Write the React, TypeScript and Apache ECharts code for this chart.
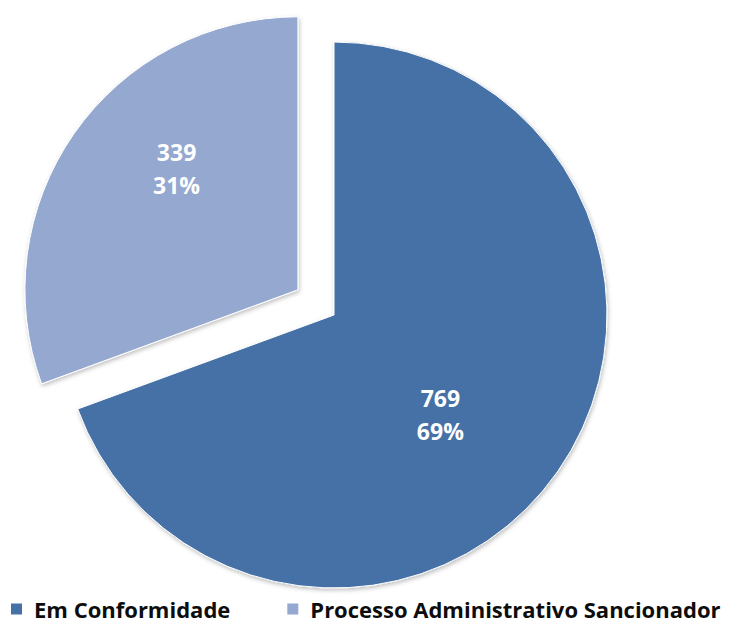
import React, { useEffect, useRef } from "react";
import * as echarts from "echarts";

const categories = ["Em Conformidade", "Processo Administrativo Sancionador"];
const values = [769, 339];
const colors = ["#4571A6", "#94A8D0"];
const labelShift = [
  { dx: -8, dy: 20 },
  { dx: -7, dy: -41 },
];

export default function App() {
  const ref = useRef<HTMLDivElement>(null);
  useEffect(() => {
    document.body.style.margin = "0";
    const chart = echarts.init(ref.current!, null, { renderer: "svg" });
    const total = values.reduce((a, b) => a + b, 0);
    chart.setOption({
      animation: false,
      backgroundColor: "#ffffff",
      legend: {
        top: 597,
        left: 9,
        width: 1000,
        padding: 0,
        itemWidth: 13,
        itemHeight: 13,
        itemGap: 55,
        icon: "rect",
        textStyle: {
          fontFamily: "Open Sans",
          fontWeight: "bold",
          fontSize: 22,
          lineHeight: 24,
          color: "#0d0d0d",
          padding: [0, 0, 0, 6],
        },
        data: categories,
      },
      series: [
        {
          type: "pie",
          center: [334, 315],
          radius: 273,
          startAngle: 90,
          clockwise: true,
          selectedMode: "single",
          selectedOffset: 44,
          avoidLabelOverlap: false,
          itemStyle: {
            borderColor: "#ffffff",
            borderWidth: 1,
            shadowColor: "rgba(0,0,0,0.25)",
            shadowBlur: 4,
            shadowOffsetX: 1,
            shadowOffsetY: 2,
          },
          label: {
            show: true,
            position: "inside",
            fontFamily: "Open Sans",
            fontWeight: "bold",
            fontSize: 23,
            lineHeight: 33,
            color: "#ffffff",
            formatter: (p: any) => `${p.value}\n${Math.round((p.value / total) * 100)}%`,
          },
          labelLayout: (p: any) => labelShift[p.dataIndex],
          labelLine: { show: false },
          emphasis: { disabled: true },
          data: categories.map((name, i) => ({
            name,
            value: values[i],
            selected: i === 1,
            itemStyle: { color: colors[i] },
          })),
        },
      ],
    });
    return () => chart.dispose();
  }, []);
  return <div ref={ref} style={{ width: 738, height: 626 }} />;
}
